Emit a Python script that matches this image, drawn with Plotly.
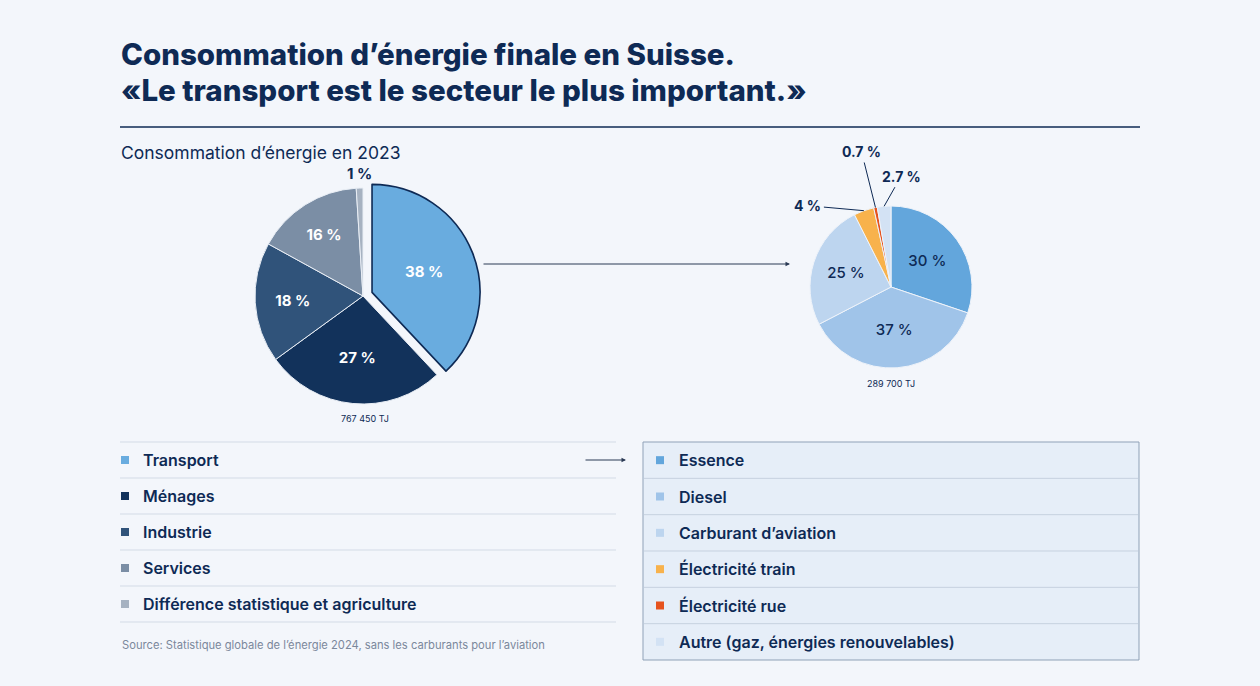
import math
import plotly.graph_objects as go

W, H = 1260, 686

# data
sectors = ["Transport", "Ménages", "Industrie", "Services",
           "Différence statistique et agriculture"]
sector_share = [38, 27, 18, 16, 1]
sector_colors = ["#69ACDF", "#12325B", "#30537A", "#7B8EA5", "#A6B2C1"]
sector_total = "767 450 TJ"

fuels = ["Essence", "Diesel", "Carburant d’aviation", "Électricité train",
         "Électricité rue", "Autre (gaz, énergies renouvelables)"]
fuel_share = [30, 37, 25, 4, 0.7, 2.7]
fuel_colors = ["#63A6DC", "#A0C4E9", "#BDD5EF", "#F8B24C", "#E6531E", "#D3E2F4"]
fuel_total = "289 700 TJ"

NAVY = "#0E2A55"
BG = "#F3F6FB"
FONT = "Inter"

# pie geometry in page pixels (centre, radius)
LEFT_C, LEFT_R, LEFT_PULL = (363, 296), 108, 0.09
RIGHT_C, RIGHT_R = (891, 287), 81

# where the small outside labels sit relative to their slice rim (px)
left_out = {4: (0, -15)}
right_out = {3: (-56, -5), 4: (-14, -56), 5: (17, -30)}


def px(x):
    return x / W


def py(y):
    return 1 - y / H


def pct(v):
    return f"{v:g} %"


def rim_point(values, i, centre, r):
    # mid angle of slice i, clockwise from 12 o'clock
    tot = sum(values)
    mid = (sum(values[:i]) + values[i] / 2) / tot * 2 * math.pi
    return centre[0] + r * math.sin(mid), centre[1] - r * math.cos(mid)


def pie_domain(centre, r, pull=0.0):
    half = r * (1 + pull)
    return dict(x=[px(centre[0] - half), px(centre[0] + half)],
                y=[py(centre[1] + half), py(centre[1] - half)])


fig = go.Figure()

# left pie: sectors, transport pulled out
fig.add_trace(go.Pie(
    labels=sectors,
    values=sector_share,
    text=[pct(v) if i not in left_out else "" for i, v in enumerate(sector_share)],
    textinfo="text",
    textposition=["inside" if i not in left_out else "none" for i in range(len(sectors))],
    insidetextorientation="horizontal",
    sort=False,
    direction="clockwise",
    rotation=0,
    pull=[LEFT_PULL] + [0] * (len(sectors) - 1),
    marker=dict(colors=sector_colors,
                line=dict(color=[NAVY] + ["#E9EEF5"] * 4,
                          width=[1.6, 1, 1, 1, 1])),
    insidetextfont=dict(family=FONT, size=15, color="white", weight=700),
    domain=pie_domain(LEFT_C, LEFT_R, LEFT_PULL),
    hoverinfo="skip",
    showlegend=False,
))

# right pie: transport fuels
fig.add_trace(go.Pie(
    labels=fuels,
    values=fuel_share,
    text=[pct(v) if i not in right_out else "" for i, v in enumerate(fuel_share)],
    textinfo="text",
    textposition=["inside" if i not in right_out else "none" for i in range(len(fuels))],
    insidetextorientation="horizontal",
    sort=False,
    direction="clockwise",
    rotation=0,
    marker=dict(colors=fuel_colors, line=dict(color="#EEF3FA", width=1)),
    insidetextfont=dict(family=FONT, size=15, color=NAVY, weight=500),
    domain=pie_domain(RIGHT_C, RIGHT_R),
    hoverinfo="skip",
    showlegend=False,
))

shapes = []
ann = []

# outside labels for the thin slices
for i, (dx, dy) in left_out.items():
    rx, ry = rim_point(sector_share, i, LEFT_C, LEFT_R)
    ann.append(dict(text=pct(sector_share[i]), x=px(rx + dx), y=py(ry + dy), xanchor="center",
                    font=dict(family=FONT, size=15, color=NAVY, weight=700)))
for i, (dx, dy) in right_out.items():
    rx, ry = rim_point(fuel_share, i, RIGHT_C, RIGHT_R)
    ann.append(dict(text=pct(fuel_share[i]), x=px(rx), y=py(ry), ax=dx, ay=dy,
                    showarrow=True, arrowhead=0, arrowwidth=1, arrowcolor=NAVY,
                    xanchor="center", standoff=0, startstandoff=1,
                    font=dict(family=FONT, size=14, color=NAVY, weight=700)))

# title block
ann.append(dict(text="Consommation d’énergie finale en Suisse.", x=px(119), y=py(54),
                font=dict(family=FONT, size=29.5, color=NAVY, weight=800)))
ann.append(dict(text="«Le transport est le secteur le plus important.»", x=px(119), y=py(90),
                font=dict(family=FONT, size=29.5, color=NAVY, weight=800)))
shapes.append(dict(type="line", x0=px(120), x1=px(1140), y0=py(127), y1=py(127),
                   line=dict(color=NAVY, width=1.3)))
ann.append(dict(text="Consommation d’énergie en 2023", x=px(119), y=py(152),
                font=dict(family=FONT, size=17.5, color=NAVY)))

# totals under pies
ann.append(dict(text=sector_total, x=px(365), y=py(418), xanchor="center",
                font=dict(family=FONT, size=9, color=NAVY)))
ann.append(dict(text=fuel_total, x=px(891), y=py(383), xanchor="center",
                font=dict(family=FONT, size=9, color=NAVY)))

# arrows
ann.append(dict(x=px(790), y=py(264), ax=-310, ay=0, showarrow=True, text="",
                arrowhead=2, arrowsize=0.9, arrowwidth=1, arrowcolor="#2B3A55"))
ann.append(dict(x=px(626), y=py(460), ax=-44, ay=0, showarrow=True, text="",
                arrowhead=2, arrowsize=0.9, arrowwidth=1, arrowcolor="#2B3A55"))

# left legend
row_h = 36
y_top = 442
for i, (name, col) in enumerate(zip(sectors, sector_colors)):
    yc = y_top + row_h * i + row_h / 2
    shapes.append(dict(type="line", x0=px(120), x1=px(616), y0=py(y_top + row_h * i),
                       y1=py(y_top + row_h * i), line=dict(color="#D3DBE6", width=1)))
    shapes.append(dict(type="rect", x0=px(121), x1=px(129), y0=py(yc - 4), y1=py(yc + 4),
                       fillcolor=col, line=dict(width=0)))
    ann.append(dict(text=name, x=px(141), y=py(yc),
                    font=dict(family=FONT, size=16, color=NAVY, weight=600)))
shapes.append(dict(type="line", x0=px(120), x1=px(616), y0=py(y_top + row_h * len(sectors)),
                   y1=py(y_top + row_h * len(sectors)), line=dict(color="#D3DBE6", width=1)))

ann.append(dict(text="Source: Statistique globale de l’énergie 2024, sans les carburants pour l’aviation",
                x=px(120), y=py(645), font=dict(family=FONT, size=11.2, color="#7B889B")))

# right legend box
box_top, box_bot = 442, 660
rh = (box_bot - box_top) / len(fuels)
shapes.append(dict(type="rect", x0=px(643), x1=px(1139), y0=py(box_bot), y1=py(box_top),
                   fillcolor="#E6EEF8", line=dict(color="#8FA1B7", width=1)))
for i, (name, col) in enumerate(zip(fuels, fuel_colors)):
    yc = box_top + rh * i + rh / 2
    if i > 0:
        shapes.append(dict(type="line", x0=px(644), x1=px(1138), y0=py(box_top + rh * i),
                           y1=py(box_top + rh * i), line=dict(color="#C6D1DF", width=1)))
    shapes.append(dict(type="rect", x0=px(656), x1=px(664), y0=py(yc - 4), y1=py(yc + 4),
                       fillcolor=col, line=dict(width=0)))
    ann.append(dict(text=name, x=px(677), y=py(yc),
                    font=dict(family=FONT, size=16, color=NAVY, weight=600)))

for a in ann:
    a.setdefault("xref", "paper")
    a.setdefault("yref", "paper")
    a.setdefault("xanchor", "left")
    a.setdefault("yanchor", "middle")
    a.setdefault("showarrow", False)

fig.update_layout(
    width=W,
    height=H,
    margin=dict(l=0, r=0, t=0, b=0),
    paper_bgcolor=BG,
    plot_bgcolor=BG,
    shapes=shapes,
    annotations=ann,
    font=dict(family=FONT, color=NAVY),
)

# page body has a default 8px margin; drop it so the figure fills the window
fig.write_html("out.html", config={"displayModeBar": False},
               post_script="document.body.style.margin='0';document.body.style.overflow='hidden';")
